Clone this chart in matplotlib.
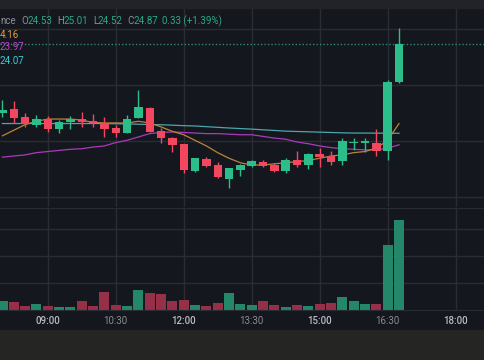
import matplotlib.pyplot as plt
import numpy as np
from matplotlib.patches import Rectangle

plt.rcParams['font.family'] = ['Roboto', 'DejaVu Sans']

# 15-minute candles, 08:00 .. 16:45
times = ["08:00", "08:15", "08:30", "08:45", "09:00", "09:15", "09:30", "09:45",
         "10:00", "10:15", "10:30", "10:45", "11:00", "11:15", "11:30", "11:45",
         "12:00", "12:15", "12:30", "12:45", "13:00", "13:15", "13:30", "13:45",
         "14:00", "14:15", "14:30", "14:45", "15:00", "15:15", "15:30", "15:45",
         "16:00", "16:15", "16:30", "16:45"]
opens = [24.25, 24.29, 24.22, 24.145, 24.20, 24.11, 24.175, 24.20,
         24.18, 24.165, 24.12, 24.075, 24.21, 24.30, 24.09, 24.03,
         23.975, 23.735, 23.845, 23.79, 23.665, 23.745, 23.78, 23.815,
         23.79, 23.735, 23.835, 23.79, 23.89, 23.87, 23.825, 23.99,
         23.99, 23.985, 23.915, 24.53]
highs = [24.37, 24.36, 24.255, 24.235, 24.225, 24.19, 24.225, 24.265,
         24.245, 24.22, 24.145, 24.235, 24.46, 24.31, 24.12, 24.04,
         23.975, 23.85, 23.86, 23.815, 23.765, 23.80, 23.835, 23.835,
         23.81, 23.85, 23.915, 23.895, 23.94, 23.915, 24.03, 24.03,
         24.03, 24.11, 24.55, 25.01]
lows = [24.22, 24.165, 24.13, 24.13, 24.085, 24.075, 24.11, 24.13,
        24.13, 24.04, 24.04, 24.075, 24.21, 24.085, 23.985, 23.905,
        23.72, 23.725, 23.77, 23.675, 23.585, 23.69, 23.77, 23.77,
        23.725, 23.72, 23.77, 23.755, 23.77, 23.79, 23.79, 23.925,
        23.905, 23.87, 23.835, 24.52]
closes = [24.28, 24.21, 24.155, 24.20, 24.11, 24.175, 24.20, 24.175,
          24.165, 24.11, 24.075, 24.20, 24.31, 24.085, 24.03, 23.97,
          23.745, 23.85, 23.78, 23.685, 23.765, 23.79, 23.825, 23.78,
          23.735, 23.835, 23.79, 23.89, 23.86, 23.815, 24.00, 23.995,
          24.005, 23.915, 24.53, 24.87]
volumes = [17, 14, 7, 11, 7, 6, 6, 16, 7, 33, 9, 7, 37, 31, 30, 17, 19, 9,
           7, 13, 31, 11, 9, 17, 9, 6, 9, 7, 11, 13, 24, 17, 11, 11, 120, 167]

ma_fast = [24.05, 24.10, 24.15, 24.18, 24.20, 24.20, 24.20, 24.19, 24.17,
           24.165, 24.165, 24.165, 24.18, 24.165, 24.13, 24.09, 24.06, 24.01,
           23.96, 23.90, 23.85, 23.81, 23.79, 23.79, 23.80, 23.81, 23.82,
           23.83, 23.85, 23.87, 23.88, 23.90, 23.91, 23.94, 24.01, 24.16]
ma_mid = [23.86, 23.87, 23.88, 23.90, 23.91, 23.92, 23.93, 23.935, 23.95,
          23.96, 23.99, 24.01, 24.04, 24.07, 24.08, 24.085, 24.08, 24.075,
          24.07, 24.07, 24.065, 24.06, 24.06, 24.045, 24.03, 24.02, 23.995,
          23.98, 23.96, 23.945, 23.935, 23.93, 23.925, 23.925, 23.94, 23.97]
ma_slow = [24.16, 24.16, 24.16, 24.16, 24.16, 24.16, 24.16, 24.16, 24.16,
           24.16, 24.158, 24.156, 24.154, 24.151, 24.149, 24.145, 24.141,
           24.138, 24.132, 24.126, 24.12, 24.115, 24.11, 24.104, 24.098,
           24.092, 24.089, 24.086, 24.083, 24.08, 24.077, 24.075, 24.075,
           24.074, 24.074, 24.073]

tick_labels = ["09:00", "10:30", "12:00", "13:30", "15:00", "16:30", "18:00"]
last_price = 24.87

BG = "#15171e"
GRID = "#2a2c33"
UP = "#2bbd8a"
DOWN = "#f2475e"
UP_VOL = "#24876a"
DOWN_VOL = "#962f48"

W, H = 485, 360


def minutes(t):
    h, m = t.split(":")
    return int(h) * 60 + int(m)


idx = np.arange(len(times))
tick_pos = [(minutes(t) - minutes(times[0])) / 15 for t in tick_labels]
o = np.array(opens)
c = np.array(closes)
up = c >= o
cols = np.where(up, UP, DOWN)
vcols = np.where(up, UP_VOL, DOWN_VOL)

fig = plt.figure(figsize=(W / 100, H / 100), dpi=100, facecolor=BG)
fig.patches.append(Rectangle((0, 0), 1, 30 / H, transform=fig.transFigure,
                             color="#252523", zorder=0))
fig.patches.append(Rectangle((0, 1 - 8 / H), 1, 8 / H, transform=fig.transFigure,
                             color="#222328", zorder=0))

ax = fig.add_axes([0, 1 - 207 / H, 1, 199 / H])
axv = fig.add_axes([0, 1 - 310 / H, 1, 102 / H])

xlim = (-0.212, 42.59)
for a in (ax, axv):
    a.set_facecolor(BG)
    a.set_xlim(*xlim)
    for s in a.spines.values():
        s.set_visible(False)
    for tp in tick_pos:
        a.axvline(tp, color=GRID, lw=1, zorder=0)

# price pane
ax.set_ylim(23.415, 25.191)
for lvl in [25.0, 24.5, 24.0, 23.5]:
    ax.axhline(lvl, color=GRID, lw=1, zorder=0)
ax.axhline(last_price, color="#2a8a74", lw=1, ls=(0, (1, 1.5)), zorder=1)

ax.plot(idx, ma_slow, color="#4aa7ad", lw=0.9, zorder=2)
ax.plot(idx, ma_mid, color="#a93bbb", lw=0.9, zorder=2)
ax.plot(idx, ma_fast, color="#b98338", lw=0.9, zorder=2)

ax.vlines(idx, lows, highs, colors=cols, lw=1, zorder=3)
body = np.maximum(np.abs(c - o), 0.009)
ax.bar(idx, body, bottom=np.minimum(o, c), width=0.74, color=cols, zorder=4)
ax.set_xticks([])
ax.set_yticks([])

# volume pane
axv.set_ylim(0, 189)
for lvl in [50, 100, 150]:
    axv.axhline(lvl, color=GRID, lw=1, zorder=0)
axv.spines["top"].set_visible(True)
axv.spines["top"].set_color(GRID)
axv.spines["bottom"].set_visible(True)
axv.spines["bottom"].set_color(GRID)
axv.bar(idx, volumes, width=0.9, color=vcols, zorder=2)
axv.set_yticks([])
axv.set_xticks(tick_pos)
axv.set_xticklabels(tick_labels, fontsize=7)
axv.tick_params(axis="x", length=0, pad=4)
for lab in axv.get_xticklabels():
    if lab.get_text().endswith(":00"):
        lab.set_color("#b9bbc0")
        lab.set_fontweight("medium")
    else:
        lab.set_color("#8a8c92")


# legend text in the top-left corner
def ftxt(x, y, s, color):
    fig.text(x / W, 1 - y / H, s, color=color, fontsize=7, va="center", ha="left")


LBL = "#8d9099"
VAL = "#2aaa84"
ftxt(0, 21.5, "nce", LBL)
for x, k, v in [(21, "O", "24.53"), (57, "H", "25.01"), (93, "L", "24.52"), (127, "C", "24.87")]:
    ftxt(x, 21.5, k, LBL)
    ftxt(x + 6.3 if k != "L" else x + 5, 21.5, v, VAL)
ftxt(162, 21.5, "0.33 (+1.39%)", VAL)
ftxt(0, 34.5, "4.16", "#e29a3e")
ftxt(0, 47, "23.97", "#c141d2")
ftxt(0, 60.7, "24.07", "#3ccbd6")

fig.savefig("out.png", dpi=100, facecolor=BG)
